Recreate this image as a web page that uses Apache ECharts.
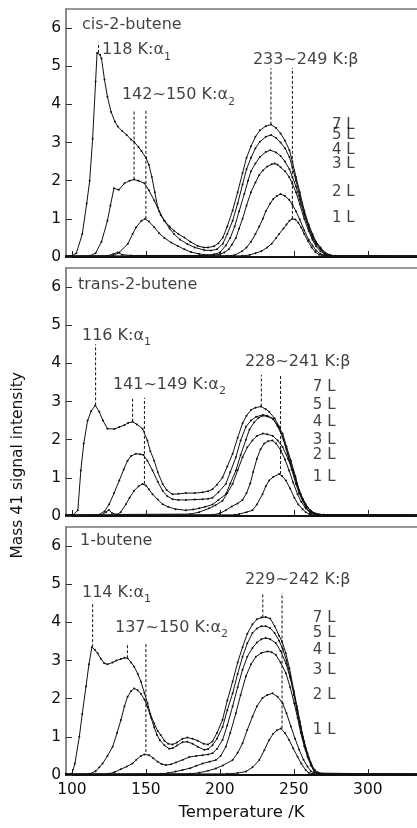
<!DOCTYPE html>
<html>
<head>
<meta charset="utf-8">
<script src="https://cdn.jsdelivr.net/npm/echarts@6/dist/echarts.min.js"></script>
<style>
  html, body { margin: 0; padding: 0; background: #fff; }
  #chart { width: 417px; height: 828px; }
</style>
</head>
<body>
<div id="chart"></div>
<script>
// temperature (K) vs mass 41 signal
var xTicks = [100, 150, 200, 250, 300];
var layerNames = ['7 L', '5 L', '4 L', '3 L', '2 L', '1 L'];

// cis-2-butene
var cis7L = [[96,0.03],[100,0.03],[103,0.1],[107,0.6],[110,1.4],[112,2.0],[114,3.1],[116,4.6],[117,5.35],[119,5.3],[120,5.2],[122,4.65],[124,4.2],[126.5,3.8],[129,3.55],[131,3.42],[134,3.3],[137,3.2],[140,3.08],[142,3.02],[145,2.88],[147,2.78],[150,2.6],[152,2.42],[154,2.1],[156,1.7],[158,1.3],[160,1.1],[162.5,0.95],[166,0.8],[169,0.69],[172,0.6],[176,0.51],[180,0.4],[185,0.29],[189,0.25],[192,0.25],[196,0.28],[199,0.36],[202,0.51],[205,0.8],[208.6,1.22],[212,1.7],[215.3,2.2],[218,2.6],[221,2.9],[224,3.15],[227,3.32],[231,3.43],[234.5,3.47],[238,3.38],[241,3.24],[244,3.05],[247,2.8],[249,2.5],[251.4,2.1],[254,1.7],[257,1.22],[260,0.85],[262.6,0.6],[265,0.4],[268,0.25],[271,0.12],[274,0.06],[278,0.03],[334,0.03]];
var cis5L = [[96,0.02],[112,0.03],[116,0.1],[120,0.4],[124,0.95],[126,1.35],[128.4,1.8],[131.7,1.76],[135.5,1.93],[139,2.0],[142,2.03],[145,2.0],[149,1.93],[152,1.75],[155.7,1.48],[159,1.2],[162.5,0.95],[166,0.75],[169,0.6],[173,0.46],[178,0.34],[183,0.25],[189.5,0.18],[194,0.17],[198,0.2],[202,0.35],[205,0.6],[208.6,0.95],[212,1.4],[215.3,1.9],[218,2.3],[221,2.6],[224,2.85],[227,3.02],[231,3.15],[234.5,3.2],[238,3.12],[241,3.0],[244,2.85],[247,2.62],[249,2.35],[251.4,2.0],[254,1.6],[257,1.15],[260,0.8],[262.6,0.55],[265,0.37],[268,0.22],[271,0.1],[274,0.05],[278,0.02],[334,0.02]];
var cis4L = [[96,0.02],[128,0.03],[132,0.12],[137.7,0.34],[141,0.6],[143.4,0.78],[147,0.95],[149.5,1.0],[152,0.93],[155.7,0.78],[159,0.62],[162.5,0.5],[167,0.38],[171.5,0.29],[176,0.2],[180.5,0.13],[186,0.08],[191.7,0.05],[196,0.07],[200,0.12],[204,0.3],[207,0.5],[210,0.8],[213,1.2],[216.5,1.65],[219,2.0],[221,2.25],[224,2.45],[227,2.62],[231,2.75],[234,2.8],[238,2.74],[241,2.65],[244,2.5],[247,2.3],[249,2.1],[251.4,1.85],[254,1.5],[257,1.1],[260,0.75],[262.6,0.5],[265,0.33],[268,0.2],[271,0.09],[274,0.04],[278,0.02],[334,0.02]];
var cis3L = [[96,0.02],[124,0.03],[128,0.08],[131,0.12],[134,0.06],[140,0.04],[190,0.04],[196,0.05],[200,0.07],[203,0.12],[206,0.2],[208,0.32],[210.8,0.5],[213,0.75],[215.3,1.0],[218,1.35],[221,1.7],[224,1.95],[226.6,2.15],[229,2.27],[232,2.37],[235,2.43],[237,2.45],[239,2.42],[241,2.35],[244,2.25],[246.8,2.1],[249,1.92],[251.4,1.7],[254,1.38],[257,1.0],[260,0.68],[262.6,0.45],[265,0.28],[268,0.15],[271,0.07],[274,0.03],[334,0.02]];
var cis2L = [[96,0.02],[205,0.03],[210,0.05],[215,0.15],[218,0.25],[221,0.4],[224,0.6],[226.6,0.8],[229,1.0],[231,1.2],[234,1.4],[236,1.52],[238.5,1.6],[241,1.65],[244,1.6],[246.8,1.5],[249,1.37],[251.4,1.2],[254,0.98],[257,0.7],[260,0.45],[262.6,0.3],[265,0.17],[268,0.08],[272,0.03],[334,0.02]];
var cis1L = [[96,0.02],[215,0.03],[220,0.05],[224,0.1],[228,0.15],[232,0.25],[235,0.35],[238,0.5],[240,0.6],[243,0.75],[245,0.85],[247,0.95],[249,1.0],[251,0.98],[253,0.9],[255,0.77],[257,0.6],[259.5,0.42],[262,0.25],[264.5,0.13],[267,0.06],[270,0.03],[334,0.02]];

// trans-2-butene
var trans7L = [[96,0.03],[101,0.03],[104,0.15],[106,1.19],[108,1.9],[110.6,2.5],[113,2.75],[115.8,2.9],[118.5,2.73],[121,2.5],[124,2.29],[128.6,2.28],[132,2.33],[135.4,2.38],[138,2.44],[141,2.47],[144,2.4],[147.7,2.29],[151,1.98],[153,1.7],[155.6,1.45],[158,1.15],[161.3,0.84],[164,0.68],[168,0.57],[172,0.58],[177,0.6],[183,0.6],[188.3,0.62],[192,0.65],[195,0.7],[198,0.82],[201.8,1.01],[205,1.3],[208.6,1.63],[212,2.05],[215.3,2.43],[218,2.63],[221,2.78],[224,2.84],[227.7,2.87],[231,2.8],[233.3,2.73],[237,2.56],[240,2.34],[243,2.0],[245.7,1.63],[248.5,1.22],[251.4,0.84],[253.5,0.6],[255.9,0.4],[258.5,0.24],[261.5,0.13],[265,0.06],[270,0.03],[334,0.03]];
var trans5L = [[96,0.02],[118,0.03],[122,0.12],[125.2,0.31],[128.5,0.6],[132,0.93],[135,1.22],[137.6,1.45],[140,1.57],[143.2,1.63],[146,1.62],[148.3,1.6],[151,1.45],[154.5,1.19],[158,0.9],[161.3,0.66],[164.5,0.52],[168,0.44],[172,0.42],[177,0.42],[183,0.43],[188.3,0.44],[192,0.45],[195,0.48],[199,0.62],[204,0.84],[207,1.15],[210.8,1.54],[214,1.98],[217.6,2.34],[221,2.5],[224.5,2.6],[229,2.65],[232,2.63],[235.8,2.55],[239,2.38],[242.4,2.16],[245,1.82],[248,1.45],[251,1.05],[253.6,0.66],[256,0.45],[258,0.31],[261,0.15],[264,0.07],[270,0.03],[334,0.02]];
var trans4L = [[96,0.02],[130,0.03],[133,0.1],[136.5,0.31],[139,0.48],[142,0.66],[145,0.78],[147.7,0.84],[150,0.8],[152,0.7],[154.5,0.57],[158,0.43],[161.3,0.31],[165,0.24],[170,0.18],[177,0.15],[182,0.17],[186,0.2],[190,0.24],[195,0.3],[199,0.42],[204,0.57],[207,0.85],[210.8,1.19],[214,1.6],[217.6,2.0],[220,2.27],[223.2,2.46],[226,2.57],[229,2.63],[232,2.61],[235.8,2.55],[239,2.35],[242.4,2.07],[245,1.75],[248,1.36],[251,1.0],[253.6,0.66],[256,0.42],[258,0.22],[261,0.1],[264,0.05],[270,0.02],[334,0.02]];
var trans3L = [[96,0.02],[120,0.03],[123,0.1],[125,0.16],[127,0.08],[130,0.04],[180,0.05],[186,0.1],[192.7,0.2],[197,0.28],[201.8,0.4],[205,0.6],[208.6,0.84],[212,1.2],[215.3,1.54],[218.5,1.8],[222,1.98],[225,2.1],[229,2.16],[232,2.14],[235.8,2.1],[239,1.98],[242.4,1.81],[246,1.5],[249.2,1.19],[252,0.85],[254.7,0.57],[257,0.37],[259.2,0.22],[262,0.1],[266,0.04],[334,0.02]];
var trans2L = [[96,0.02],[195,0.03],[200,0.07],[204,0.15],[208,0.25],[212,0.33],[215.3,0.42],[218,0.6],[220.5,0.85],[222.5,1.15],[225,1.5],[227.5,1.75],[230,1.9],[232.5,1.96],[235.5,1.98],[238,1.9],[241.2,1.72],[244,1.48],[246.8,1.19],[249.5,0.88],[252.5,0.57],[255,0.37],[258,0.2],[261,0.08],[265,0.03],[334,0.02]];
var trans1L = [[96,0.02],[210,0.03],[213,0.05],[218,0.1],[222,0.15],[225,0.3],[228.8,0.57],[231,0.78],[233.3,0.93],[236,1.02],[240,1.1],[242,1.05],[244.6,0.93],[247.5,0.72],[250.3,0.48],[253,0.3],[255.9,0.18],[258,0.1],[260.4,0.05],[264,0.02],[334,0.02]];

// 1-butene
var but7L = [[96,0.03],[100,0.03],[102,0.3],[105,1.0],[107,1.6],[109.5,2.32],[111.5,2.9],[113.5,3.35],[115.5,3.28],[117.4,3.19],[119.5,3.05],[121.8,2.93],[124,2.9],[127.5,2.95],[130,3.0],[133.1,3.04],[135.5,3.07],[137.6,3.06],[140,2.95],[142.1,2.84],[144.5,2.65],[146.6,2.45],[149,2.15],[151.1,1.88],[153,1.6],[155.6,1.35],[158,1.15],[160,1.05],[162.5,0.9],[165,0.82],[168,0.8],[171,0.85],[174.7,0.95],[178,0.98],[181.5,0.95],[185,0.9],[189,0.82],[192,0.8],[195,0.88],[198,1.1],[201.8,1.45],[205,1.95],[208.6,2.45],[212,2.95],[215.3,3.35],[218.5,3.7],[222,3.95],[225,4.08],[228,4.13],[231,4.14],[234,4.1],[237,3.9],[240,3.65],[242,3.5],[244.5,3.2],[247,2.8],[250,2.2],[252,1.8],[254,1.4],[256,1.0],[258,0.7],[260,0.45],[262,0.25],[264,0.14],[266,0.07],[270,0.03],[334,0.03]];
var but5L = [[96,0.02],[112,0.03],[116,0.1],[118.5,0.2],[120.7,0.3],[124,0.5],[127.5,0.74],[130.5,1.1],[133.1,1.44],[135.5,1.8],[137.6,2.05],[140,2.2],[142.1,2.27],[144.5,2.22],[146.6,2.13],[149,1.98],[151.1,1.78],[153.5,1.5],[155.6,1.25],[157.5,1.05],[159.5,0.91],[162.5,0.78],[165.7,0.69],[168,0.7],[171,0.77],[174.7,0.86],[178,0.87],[181.5,0.82],[185,0.74],[189.4,0.66],[192,0.68],[195,0.78],[198,0.95],[201.8,1.26],[205,1.7],[208.6,2.14],[212,2.65],[215.3,3.1],[218.5,3.45],[222,3.72],[225,3.84],[228,3.9],[231,3.9],[234,3.85],[237,3.72],[240,3.52],[242.5,3.3],[245,3.0],[247.5,2.6],[250,2.1],[252,1.7],[254,1.3],[256,0.95],[258,0.65],[260,0.42],[262,0.24],[264,0.13],[266,0.06],[270,0.02],[334,0.02]];
var but4L = [[96,0.02],[125,0.03],[129,0.08],[133,0.15],[137,0.22],[140.9,0.3],[143.5,0.4],[146.6,0.5],[149,0.54],[152.2,0.52],[155,0.44],[157.9,0.35],[160.5,0.29],[163.5,0.26],[167,0.28],[170.3,0.33],[175,0.4],[179.3,0.47],[184,0.5],[188.3,0.52],[192,0.54],[195,0.57],[198,0.68],[201.8,0.92],[205,1.3],[208.6,1.8],[212,2.3],[215.3,2.76],[218.5,3.1],[222,3.33],[225,3.47],[228,3.56],[231,3.59],[234,3.56],[237.8,3.46],[241,3.25],[244.6,2.93],[247.5,2.55],[250.2,2.14],[252.5,1.7],[254.7,1.27],[257,0.88],[259.2,0.57],[261.5,0.32],[263.7,0.13],[266,0.06],[270,0.02],[334,0.02]];
var but3L = [[96,0.02],[160,0.03],[165,0.05],[170,0.09],[174.7,0.13],[180,0.18],[184,0.24],[188.3,0.3],[193,0.35],[197.3,0.39],[200.5,0.5],[204,0.74],[207,1.1],[210.8,1.62],[214,2.1],[217.6,2.59],[221,2.9],[224.3,3.1],[228,3.2],[232.2,3.24],[235,3.22],[237.8,3.15],[241,2.95],[244.6,2.67],[247.5,2.3],[250.2,1.88],[252.5,1.5],[254.7,1.1],[257,0.75],[259.2,0.48],[261.5,0.25],[263.7,0.09],[266,0.04],[334,0.02]];
var but2L = [[96,0.02],[180,0.03],[186,0.06],[192,0.11],[197.3,0.17],[202,0.25],[208.6,0.39],[212,0.58],[215.3,0.83],[218.5,1.18],[222,1.53],[225,1.8],[228.8,2.02],[232,2.1],[235.6,2.14],[239,2.05],[242.4,1.88],[245,1.62],[248,1.27],[250.8,0.95],[253.6,0.66],[256.5,0.4],[259.2,0.22],[261.5,0.1],[263.7,0.05],[334,0.02]];
var but1L = [[96,0.02],[205,0.03],[212,0.05],[217.6,0.09],[222,0.2],[226.6,0.39],[230,0.65],[233.3,0.92],[236,1.08],[238.5,1.17],[241.2,1.22],[244,1.1],[246.8,0.92],[249.5,0.7],[252.5,0.48],[255,0.3],[258,0.13],[260,0.06],[262.5,0.03],[334,0.02]];

// dashed peak markers: [T, bottom, top]
var cisPeaks = [[118,5.35,5.62],[142,2.03,3.85],[150,1.0,3.85],[234.5,3.47,4.95],[249,1.0,4.95]];
var transPeaks = [[116,2.9,4.5],[141,2.47,3.1],[149,0.84,3.1],[228,2.87,3.7],[241,1.1,3.7]];
var butPeaks = [[114,3.35,4.5],[137.5,3.06,3.46],[150,0.6,3.46],[229,4.13,4.77],[242,1.22,4.77]];

// text notes: [T, value, rich text]
var cisNotes = [[106.8,6.08,'{m|cis-2-butene}'],[120.3,5.42,'{m|118 K:α}{s|1}'],[133.8,4.24,'{m|142~150 K:α}{s|2}'],[222.3,5.16,'{m|233~249 K:β}']];
var transNotes = [[104.1,6.05,'{m|trans-2-butene}'],[106.8,4.72,'{m|116 K:α}{s|1}'],[127.7,3.43,'{m|141~149 K:α}{s|2}'],[216.9,4.04,'{m|228~241 K:β}']];
var butNotes = [[105.5,6.13,'{m|1-butene}'],[106.8,4.77,'{m|114 K:α}{s|1}'],[129.1,3.85,'{m|137~150 K:α}{s|2}'],[216.9,5.11,'{m|229~242 K:β}']];

// layer label positions: [T, value] in order 7L..1L
var cisLayerPos = [[275.7,3.46],[275.7,3.2],[275.7,2.8],[275.7,2.44],[275.7,1.7],[275.7,1.02]];
var transLayerPos = [[262.8,3.38],[262.8,2.91],[262.8,2.46],[262.8,1.99],[262.8,1.6],[262.8,1.02]];
var butLayerPos = [[262.8,4.12],[262.8,3.72],[262.8,3.28],[262.8,2.75],[262.8,2.1],[262.8,1.18]];

var panels = [
  { top: 9, curves: [cis7L, cis5L, cis4L, cis3L, cis2L, cis1L], peaks: cisPeaks, notes: cisNotes, layers: cisLayerPos },
  { top: 268, curves: [trans7L, trans5L, trans4L, trans3L, trans2L, trans1L], peaks: transPeaks, notes: transNotes, layers: transLayerPos },
  { top: 527, curves: [but7L, but5L, but4L, but3L, but2L, but1L], peaks: butPeaks, notes: butNotes, layers: butLayerPos }
];

var FONT = 'DejaVu Sans, Liberation Sans, sans-serif';
var INK = '#111';
var chart = echarts.init(document.getElementById('chart'), null, { renderer: 'canvas' });

var grids = [], xAxes = [], yAxes = [], series = [];
panels.forEach(function (p, i) {
  grids.push({ left: 66, right: 0, top: p.top, height: 248 });
  xAxes.push({
    gridIndex: i, type: 'value', min: 96, max: 333.2,
    axisLine: { show: true, onZero: false, lineStyle: { color: '#111', width: 2 } },
    axisTick: { show: true, inside: true, length: 6, customValues: xTicks, lineStyle: { color: '#222' } },
    axisLabel: { show: i === 2, customValues: xTicks, margin: 7, fontSize: 15.5, color: INK, fontFamily: FONT },
    splitLine: { show: false },
    name: i === 2 ? 'Temperature /K' : '',
    nameLocation: 'middle', nameGap: 29,
    nameTextStyle: { fontSize: 16.5, color: INK, fontFamily: FONT }
  });
  yAxes.push({
    gridIndex: i, type: 'value', min: 0, max: 6.5, interval: 1,
    axisLine: { show: true, lineStyle: { color: '#666', width: 1.5 } },
    axisTick: { show: true, inside: true, length: 6, lineStyle: { color: '#333' } },
    axisLabel: { margin: 5, fontSize: 15.5, color: INK, fontFamily: FONT, showMaxLabel: false,
      formatter: function (v) { return v % 1 === 0 ? String(v) : ''; } },
    splitLine: { show: false }
  });

  p.curves.forEach(function (c) {
    series.push({
      type: 'line', xAxisIndex: i, yAxisIndex: i, data: c,
      symbol: 'circle', symbolSize: 2, showSymbol: true,
      lineStyle: { color: '#111', width: 1 }, itemStyle: { color: '#111' },
      z: 3, silent: true
    });
  });

  p.peaks.forEach(function (pk) {
    series.push({
      type: 'line', xAxisIndex: i, yAxisIndex: i,
      data: [[pk[0], pk[1]], [pk[0], pk[2]]],
      symbol: 'none', lineStyle: { color: '#111', width: 1, type: [3, 2] }, z: 2, silent: true
    });
  });

  series.push({
    type: 'scatter', xAxisIndex: i, yAxisIndex: i, data: p.notes,
    symbolSize: 0, silent: true, z: 5,
    label: {
      show: true, position: 'right', distance: 0,
      formatter: function (q) { return q.data[2]; },
      rich: {
        m: { fontSize: 16, lineHeight: 18, color: INK, fontFamily: FONT },
        s: { fontSize: 11, lineHeight: 11, color: INK, fontFamily: FONT, padding: [13, 0, 0, 0] }
      }
    }
  });

  series.push({
    type: 'scatter', xAxisIndex: i, yAxisIndex: i,
    data: p.layers.map(function (d, k) { return [d[0], d[1], layerNames[k]]; }),
    symbolSize: 0, silent: true, z: 5,
    label: { show: true, position: 'right', distance: 0, fontSize: 15, color: INK, fontFamily: FONT,
      formatter: function (q) { return q.data[2]; } }
  });
});

// grey frame line along the top of each panel
panels.forEach(function (p, i) {
  xAxes.push({
    gridIndex: i, type: 'value', position: 'top', min: 96, max: 333.2,
    axisLine: { show: true, onZero: false, lineStyle: { color: '#777', width: 1.5 } },
    axisTick: { show: false }, axisLabel: { show: false }, splitLine: { show: false }
  });
});

chart.setOption({
  animation: false,
  backgroundColor: '#fff',
  grid: grids,
  xAxis: xAxes,
  yAxis: yAxes,
  series: series,
  graphic: [{
    type: 'text', left: 10, top: 372, rotation: Math.PI / 2, origin: [0, 0],
    style: { text: 'Mass 41 signal intensity', fontSize: 15.5, fill: INK, fontFamily: FONT, align: 'center', verticalAlign: 'middle' }
  }]
});
</script>
</body>
</html>
